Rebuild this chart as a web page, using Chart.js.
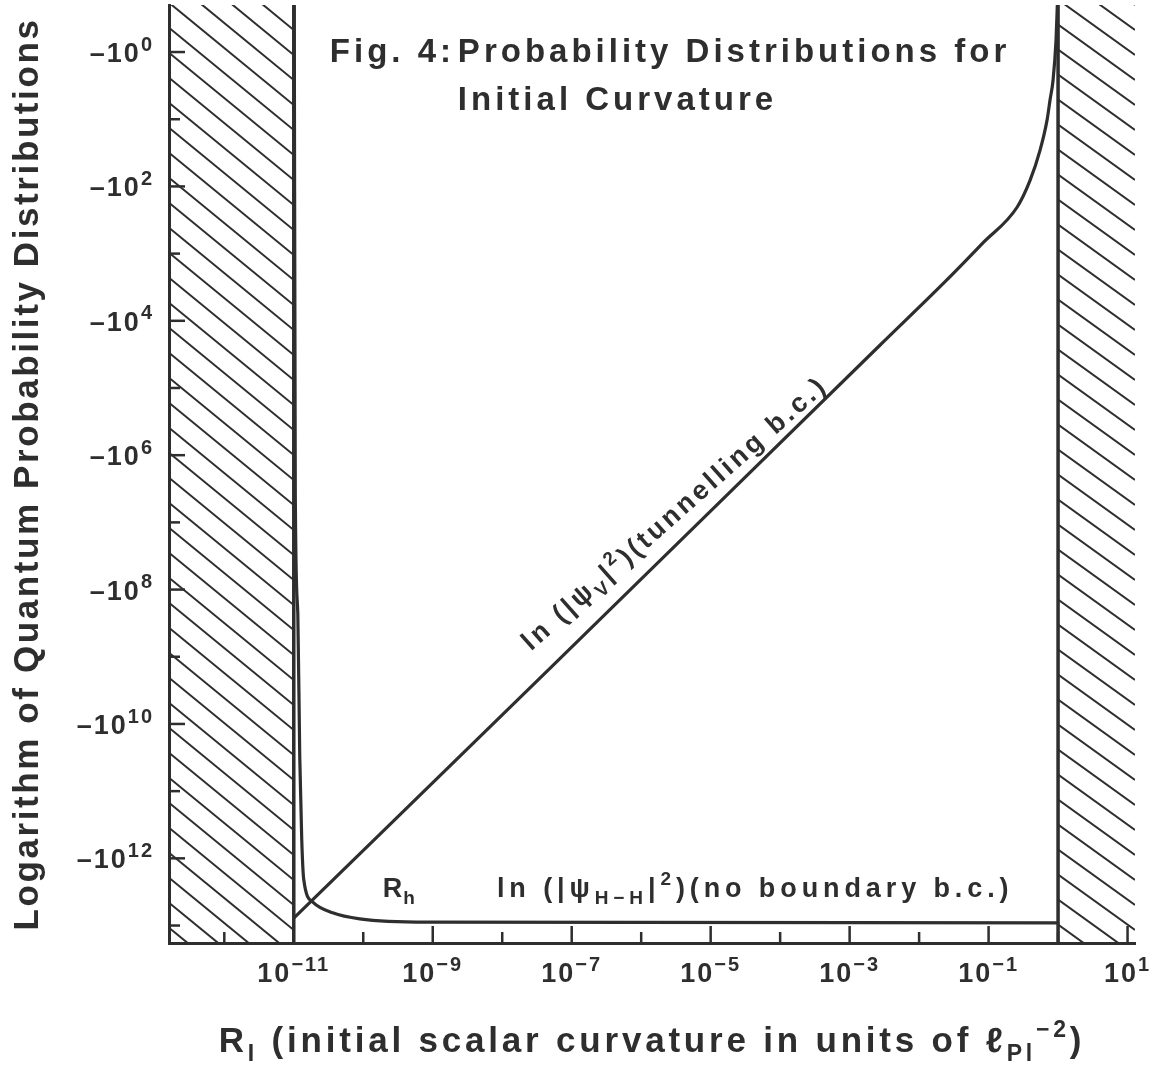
<!DOCTYPE html>
<html>
<head>
<meta charset="utf-8">
<script src="https://cdn.jsdelivr.net/npm/chart.js@4.4.1/dist/chart.umd.min.js"></script>
<style>
  html, body { margin: 0; padding: 0; background: #fff; }
  #wrap { width: 1165px; height: 1066px; }
</style>
</head>
<body>
<div id="wrap"><canvas id="fig" width="1165" height="1066"></canvas></div>
<script>
// x: initial curvature R_I (units of l_Pl^-2), log axis
// y: decade of |ln P|, so y = n means ln P = -10^n (axis runs downwards)
const xMin = 1.6e-13, xMax = 12.8;
const yMin = -0.7, yMax = 13.26;

const xTicks = [1e-12, 1e-11, 1e-10, 1e-9, 1e-8, 1e-7, 1e-6, 1e-5, 1e-4, 1e-3, 1e-2, 1e-1, 1, 10];
const xTickExps = ['', '−11', '', '−9', '', '−7', '', '−5', '', '−3', '', '−1', '', '1'];
const yTicks = [0, 1, 2, 3, 4, 5, 6, 7, 8, 9, 10, 11, 12, 13];
const yTickExps = ['0', '', '2', '', '4', '', '6', '', '8', '', '10', '', '12', ''];

// hatched (excluded) regions end at these curvatures
const boundaryR = [1e-11, 1];

// ln |psi_V|^2  (tunnelling b.c.)
const tunnelR = [1e-11, 4.9e-8, 2.75e-3, 2.75e-2, 0.083, 0.257, 0.395, 0.551, 0.695, 0.767, 0.847, 0.935, 0.983];
const tunnelY = [12.89, 9.17, 4.36, 3.35, 2.84, 2.31, 1.91, 1.46, 1.01, 0.71, 0.42, -0.18, -0.8];

// ln |psi_H-H|^2  (no boundary b.c.)
const hartleR = [1.016e-11, 1.052e-11, 1.143e-11, 1.219e-11, 1.303e-11, 1.393e-11, 1.879e-11, 3.63e-11, 8.9e-11, 8.2e-10, 1];
const hartleY = [-0.8, 6.61, 8.36, 10.49, 11.73, 12.32, 12.65, 12.81, 12.90, 12.95, 12.96];

const ink = '#2e2e2e';
const family = '"Liberation Sans", Arial, Helvetica, sans-serif';

// draws text made of normal / superscript / subscript pieces
function drawRich(ctx, parts, x, y, o) {
    const small = o.small || 0.62;
    const fontFor = (k) => 'bold ' + (k === 'n' ? o.size : Math.round(o.size * small)) + 'px ' + family;
    ctx.letterSpacing = (o.spacing || 0) + 'px';
    let w = 0;
    parts.forEach(([t, k]) => { ctx.font = fontFor(k); w += ctx.measureText(t).width; });
    let cx = x;
    if (o.align === 'center') cx = x - w / 2;
    if (o.align === 'right') cx = x - w;
    ctx.textAlign = 'left';
    ctx.textBaseline = 'alphabetic';
    parts.forEach(([t, k]) => {
        ctx.font = fontFor(k);
        const dy = k === 'sup' ? -o.size * 0.42 : (k === 'sub' ? o.size * 0.26 : 0);
        ctx.fillText(t, cx, y + dy);
        cx += ctx.measureText(t).width;
    });
    ctx.letterSpacing = '0px';
}

const figurePlugin = {
    id: 'figure',
    beforeDatasetsDraw(chart) {
        const { ctx, chartArea: a, scales: { x } } = chart;
        const regions = [[a.left, x.getPixelForValue(boundaryR[0]), 0.82], [x.getPixelForValue(boundaryR[1]), a.right, 0.72]];
        ctx.save();
        ctx.strokeStyle = ink;
        ctx.lineWidth = 2;
        regions.forEach(([x0, x1, slope]) => {
            ctx.save();
            ctx.beginPath();
            ctx.rect(x0, a.top, x1 - x0, a.bottom - a.top);
            ctx.clip();
            const w = x1 - x0;
            for (let y = a.top - w * slope; y < a.bottom; y += 25) {
                ctx.beginPath();
                ctx.moveTo(x0, y);
                ctx.lineTo(x1, y + w * slope);
                ctx.stroke();
            }
            ctx.restore();
        });
        ctx.restore();
    },
    afterDraw(chart) {
        const { ctx, chartArea: a, scales: { x, y } } = chart;
        ctx.save();
        ctx.strokeStyle = ink;
        ctx.fillStyle = ink;
        ctx.lineWidth = 2.5;

        // inward tick marks and their labels
        const tickFont = { size: 27, spacing: 2, small: 0.75, align: 'center' };
        xTicks.forEach((v, i) => {
            const px = x.getPixelForValue(v);
            const len = xTickExps[i] ? 17 : 11;
            ctx.beginPath();
            ctx.moveTo(px, a.bottom);
            ctx.lineTo(px, a.bottom - len);
            ctx.stroke();
            if (xTickExps[i]) {
                drawRich(ctx, [['10', 'n'], [xTickExps[i], 'sup']], px, a.bottom + 39, tickFont);
            }
        });
        yTicks.forEach((v, i) => {
            const py = y.getPixelForValue(v);
            const len = yTickExps[i] ? 16 : 11;
            ctx.beginPath();
            ctx.moveTo(a.left, py);
            ctx.lineTo(a.left + len, py);
            ctx.stroke();
            if (yTickExps[i]) {
                drawRich(ctx, [['–10', 'n'], [yTickExps[i], 'sup']], a.left - 15, py + 10, { ...tickFont, align: 'right' });
            }
        });

        // figure caption
        const cap = { size: 33, spacing: 4, align: 'left' };
        drawRich(ctx, [['Fig. 4:', 'n']], x.getPixelForValue(3.3e-11), y.getPixelForValue(0.15), cap);
        drawRich(ctx, [['Probability Distributions for', 'n']], x.getPixelForValue(2.3e-9), y.getPixelForValue(0.15), cap);
        drawRich(ctx, [['Initial Curvature', 'n']], x.getPixelForValue(2.3e-9), y.getPixelForValue(0.86), cap);

        // curve labels
        drawRich(ctx, [['R', 'n'], ['h', 'sub']], x.getPixelForValue(1.9e-10), y.getPixelForValue(12.57), { size: 27, spacing: 1, small: 0.72 });
        drawRich(ctx, [['ln (|ψ', 'n'], ['H−H', 'sub'], ['|', 'n'], ['2', 'sup'], [')(no boundary b.c.)', 'n']],
            x.getPixelForValue(8.4e-9), y.getPixelForValue(12.57), { size: 27, spacing: 4.9, small: 0.7 });

        ctx.save();
        ctx.translate(x.getPixelForValue(2.6e-8), y.getPixelForValue(8.92));
        ctx.rotate(-41.5 * Math.PI / 180);
        drawRich(ctx, [['ln (|ψ', 'n'], ['V', 'sub'], ['|', 'n'], ['2', 'sup'], [')(tunnelling b.c.)', 'n']], 0, 0, { size: 27, spacing: 3.3, small: 0.7 });
        ctx.restore();

        // axis titles
        drawRich(ctx, [['R', 'n'], ['I', 'sub'], [' (initial scalar curvature in units of ', 'n'], ['ℓ', 'n'], ['Pl', 'sub'], ['−2', 'sup'], [')', 'n']],
            (a.left + a.right) / 2, chart.height - 14, { size: 35, spacing: 3.8, small: 0.65, align: 'center' });
        ctx.save();
        ctx.translate(38, (a.top + a.bottom) / 2);
        ctx.rotate(-Math.PI / 2);
        drawRich(ctx, [['Logarithm of Quantum Probability Distributions', 'n']], 0, 0, { size: 35, spacing: 2.6, align: 'center' });
        ctx.restore();

        ctx.restore();
    }
};

const line = (xs, ys) => xs.map((v, i) => ({ x: v, y: ys[i] }));

const noPadding = (scale) => {
    scale.paddingTop = 0;
    scale.paddingBottom = 0;
    scale.paddingLeft = 0;
    scale.paddingRight = 0;
};

new Chart(document.getElementById('fig').getContext('2d'), {
    type: 'scatter',
    data: {
        datasets: [
            {
                label: 'ln |psi_V|^2 (tunnelling b.c.)',
                data: line(tunnelR, tunnelY),
                showLine: true,
                borderColor: ink,
                borderWidth: 3.2,
                pointRadius: 0,
                cubicInterpolationMode: 'monotone',
            },
            {
                label: 'ln |psi_H-H|^2 (no boundary b.c.)',
                data: line(hartleR, hartleY),
                showLine: true,
                borderColor: ink,
                borderWidth: 3.2,
                pointRadius: 0,
                cubicInterpolationMode: 'monotone',
            },
            ...boundaryR.map((b) => ({
                label: 'boundary',
                data: [{ x: b, y: yMin }, { x: b, y: yMax }],
                showLine: true,
                borderColor: ink,
                borderWidth: 3.5,
                pointRadius: 0,
            })),
        ],
    },
    options: {
        responsive: false,
        animation: false,
        layout: { padding: { top: 5, right: 30, left: 0, bottom: 0 } },
        plugins: {
            legend: { display: false },
            tooltip: { enabled: false },
        },
        scales: {
            x: {
                type: 'logarithmic',
                min: xMin,
                max: xMax,
                afterBuildTicks: (scale) => { scale.ticks = xTicks.map((v) => ({ value: v })); },
                afterFit: (scale) => { scale.height = 123; noPadding(scale); },
                grid: { display: false, drawTicks: false },
                border: { display: true, color: ink, width: 3 },
                ticks: { display: false },
            },
            y: {
                type: 'linear',
                reverse: true,
                min: yMin,
                max: yMax,
                afterBuildTicks: (scale) => { scale.ticks = yTicks.map((v) => ({ value: v })); },
                afterFit: (scale) => { scale.width = 169; noPadding(scale); },
                grid: { display: false, drawTicks: false },
                border: { display: true, color: ink, width: 3 },
                ticks: { display: false },
            },
        },
    },
    plugins: [figurePlugin],
});
</script>
</body>
</html>
